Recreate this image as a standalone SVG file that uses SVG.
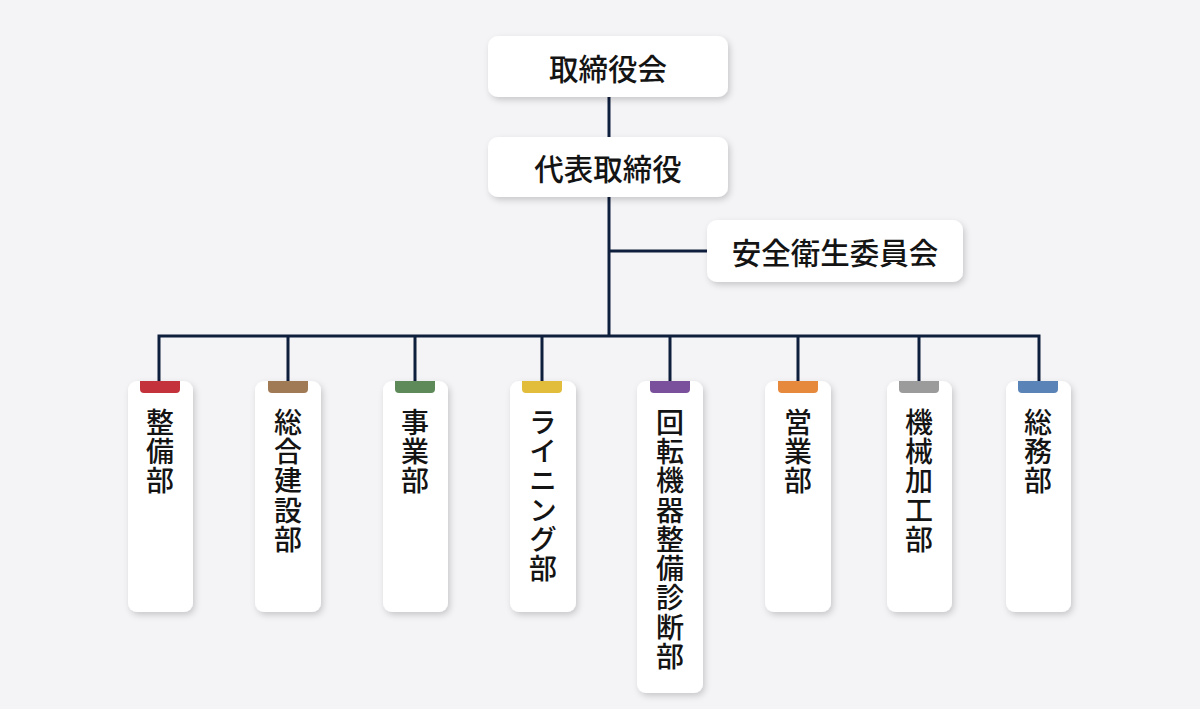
<svg xmlns="http://www.w3.org/2000/svg" width="1200" height="709" viewBox="0 0 1200 709">
<style>
.bg{fill:#f4f4f7}
.box{fill:#ffffff;filter:url(#sh)}
.lbl{font-family:"Noto Sans CJK JP","Noto Sans",sans-serif;font-size:29.5px;font-weight:500;fill:#141414;text-anchor:middle;dominant-baseline:central}
.vt{font-family:"Noto Sans CJK JP","Noto Sans",sans-serif;font-size:28px;font-weight:500;fill:#141414;writing-mode:vertical-rl;text-orientation:upright;letter-spacing:1.3px}
.ln{stroke:#0e1e3d;stroke-width:3;fill:none}
</style>
<defs>
<filter id="sh" x="-30%" y="-30%" width="160%" height="160%">
<feDropShadow dx="2" dy="3" stdDeviation="3" flood-color="#000" flood-opacity="0.18"/>
</filter>
</defs>
<rect class="bg" x="0" y="0" width="1200" height="709"/>
<g id="connectors">
<path class="ln" d="M609 97V336"/>
<path class="ln" d="M609 251H707"/>
<path class="ln" d="M159 382V336H1039V382"/>
<path class="ln" d="M288 336V382M415 336V382M542 336V382M670 336V382M798 336V382M919 336V382"/>
</g>
<g id="board"><rect class="box" x="488" y="36" width="240" height="61" rx="10"/><text class="lbl" x="608" y="67">取締役会</text></g>
<g id="president"><rect class="box" x="488" y="137" width="240" height="60" rx="10"/><text class="lbl" x="608" y="167">代表取締役</text></g>
<g id="safety"><rect class="box" x="707" y="220" width="256" height="62" rx="10"/><text class="lbl" x="835" y="251">安全衛生委員会</text></g>
<g id="d1"><rect class="box" x="128" y="381" width="65" height="231" rx="9"/><path d="M140 381h40v8a4 4 0 0 1-4 4h-32a4 4 0 0 1-4-4z" fill="#c4323b"/><text class="vt" x="160" y="408">整備部</text></g>
<g id="d2"><rect class="box" x="255" y="381" width="66" height="231" rx="9"/><path d="M268 381h40v8a4 4 0 0 1-4 4h-32a4 4 0 0 1-4-4z" fill="#a07a55"/><text class="vt" x="288" y="408">総合建設部</text></g>
<g id="d3"><rect class="box" x="383" y="381" width="65" height="231" rx="9"/><path d="M395 381h40v8a4 4 0 0 1-4 4h-32a4 4 0 0 1-4-4z" fill="#5d8a58"/><text class="vt" x="415" y="408">事業部</text></g>
<g id="d4"><rect class="box" x="510" y="381" width="66" height="231" rx="9"/><path d="M522 381h40v8a4 4 0 0 1-4 4h-32a4 4 0 0 1-4-4z" fill="#e2bd3b"/><text class="vt" x="543" y="408">ライニング部</text></g>
<g id="d5"><rect class="box" x="637" y="381" width="66" height="312" rx="9"/><path d="M650 381h40v8a4 4 0 0 1-4 4h-32a4 4 0 0 1-4-4z" fill="#7a4f9b"/><text class="vt" x="670" y="408">回転機器整備診断部</text></g>
<g id="d6"><rect class="box" x="765" y="381" width="66" height="231" rx="9"/><path d="M778 381h40v8a4 4 0 0 1-4 4h-32a4 4 0 0 1-4-4z" fill="#e6893d"/><text class="vt" x="798" y="408">営業部</text></g>
<g id="d7"><rect class="box" x="887" y="381" width="65" height="231" rx="9"/><path d="M899 381h40v8a4 4 0 0 1-4 4h-32a4 4 0 0 1-4-4z" fill="#9b9b9b"/><text class="vt" x="919" y="408">機械加工部</text></g>
<g id="d8"><rect class="box" x="1006" y="381" width="65" height="231" rx="9"/><path d="M1018 381h40v8a4 4 0 0 1-4 4h-32a4 4 0 0 1-4-4z" fill="#5a83b8"/><text class="vt" x="1038" y="408">総務部</text></g>
</svg>
